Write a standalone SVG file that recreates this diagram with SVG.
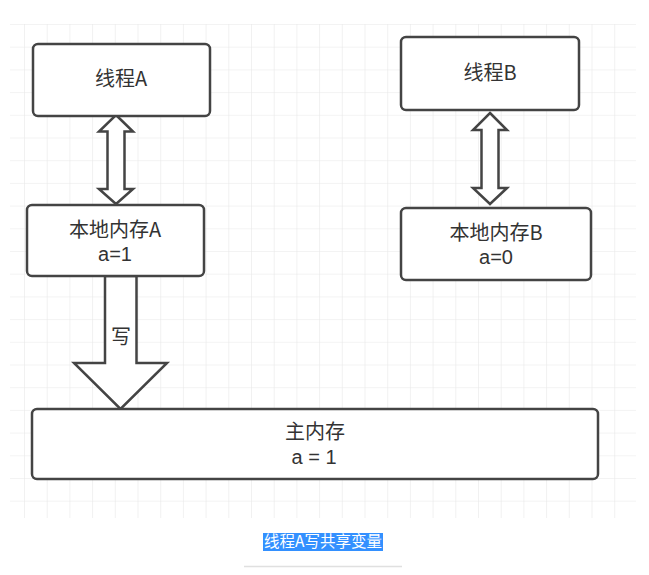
<svg xmlns="http://www.w3.org/2000/svg" width="649" height="575" viewBox="0 0 649 575">
<defs>
<pattern id="grid" patternUnits="userSpaceOnUse" x="24" y="24" width="22.7" height="22.7">
<path d="M0 0V22.7M0 0H22.7" fill="none" stroke="#e8e8e8" stroke-width="1.2"/>
</pattern>
<style>
.box{fill:#fff;stroke:#444;stroke-width:2.5}
.arr{fill:#fff;stroke:#444;stroke-width:2.5;stroke-linejoin:miter}
.t{font-family:"Noto Sans CJK SC","Liberation Sans",sans-serif;font-size:20px;fill:#333;text-anchor:middle}
.v{font-family:"Liberation Sans","Noto Sans CJK SC",sans-serif;font-size:20px;fill:#333;text-anchor:middle}
.cap{font-family:"Noto Sans CJK SC","Liberation Sans",sans-serif;font-size:15.5px;fill:#fff;text-anchor:middle}
</style>
</defs>
<rect width="649" height="575" fill="#fff"/>
<rect x="10" y="24" width="626" height="494" fill="url(#grid)"/>
<g id="connectors">
<polygon class="arr" points="116,115 133,131.5 124.5,131.5 124.5,189 133,189 116,204 99,189 107.5,189 107.5,131.5 99,131.5"/>
<polygon class="arr" points="490,113 507,130 498.5,130 498.5,188 507,188 490,204 473,188 481.5,188 481.5,130 473,130"/>
<polygon class="arr" points="105,276 136.5,276 136.5,363 167,363 120.5,409 74,363 105,363"/>
<text class="t" x="121" y="344" font-size="19">写</text>
</g>
<g id="threadA">
<rect class="box" x="33" y="44" width="177" height="72" rx="5"/>
<text class="t" x="121" y="86">线程A</text>
</g>
<g id="threadB">
<rect class="box" x="401" y="37" width="178" height="73" rx="5"/>
<text class="t" x="490" y="80">线程B</text>
</g>
<g id="localA">
<rect class="box" x="27" y="205" width="177" height="71" rx="5"/>
<text class="t" x="115" y="237">本地内存A</text>
<text class="v" x="115" y="260.5">a=1</text>
</g>
<g id="localB">
<rect class="box" x="401" y="208" width="190" height="72" rx="5"/>
<text class="t" x="496" y="239.5">本地内存B</text>
<text class="v" x="496" y="264">a=0</text>
</g>
<g id="main">
<rect class="box" x="32" y="409" width="566" height="70" rx="5"/>
<text class="t" x="315" y="439">主内存</text>
<text class="v" x="314" y="463.5">a = 1</text>
</g>
<g id="caption">
<rect x="263" y="533" width="120" height="18" fill="#3390ff"/>
<text class="cap" x="323" y="547">线程A写共享变量</text>
<line x1="244" y1="566.5" x2="402" y2="566.5" stroke="#e0e0e0" stroke-width="1.5"/>
</g>
</svg>
